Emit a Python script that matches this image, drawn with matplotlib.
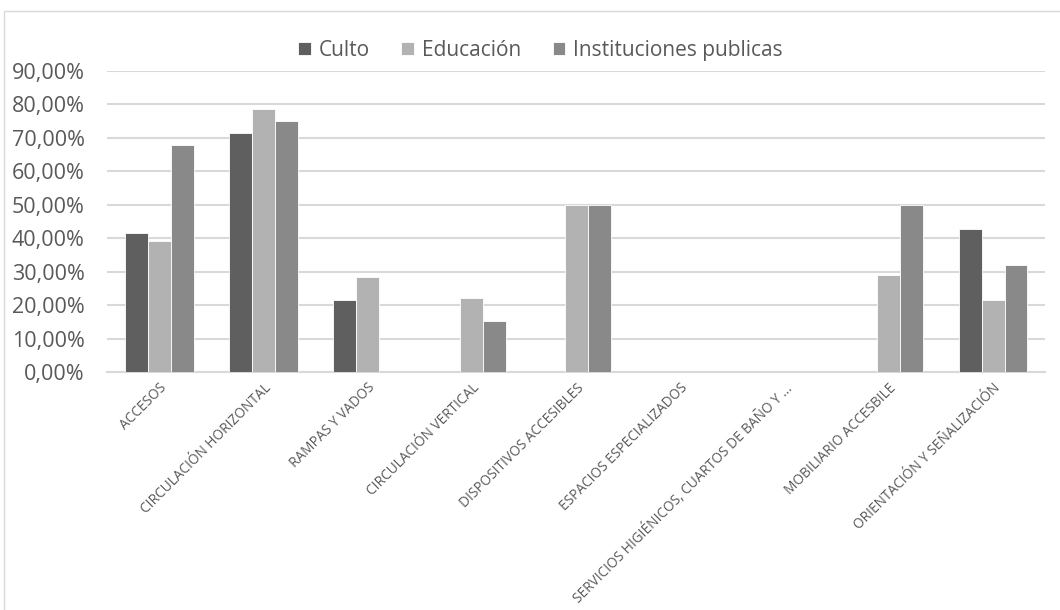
import numpy as np
import matplotlib
matplotlib.use('Agg')
import matplotlib.pyplot as plt
from matplotlib.patches import Rectangle
from matplotlib.ticker import FuncFormatter

plt.rcParams['font.family'] = ['Open Sans', 'DejaVu Sans']

categorias = ["ACCESOS", "CIRCULACIÓN HORIZONTAL", "RAMPAS Y VADOS",
              "CIRCULACIÓN VERTICAL", "DISPOSITIVOS ACCESIBLES",
              "ESPACIOS ESPECIALIZADOS",
              "SERVICIOS HIGIÉNICOS, CUARTOS DE BAÑO Y ...",
              "MOBILIARIO ACCESBILE", "ORIENTACIÓN Y SEÑALIZACIÓN"]
culto = [0.4167, 0.7143, 0.2143, 0, 0, 0, 0, 0, 0.4286]
educacion = [0.3929, 0.7857, 0.2857, 0.2222, 0.50, 0, 0, 0.2900, 0.2143]
instituciones = [0.6786, 0.75, 0, 0.1538, 0.50, 0, 0, 0.50, 0.3214]
series = ["Culto", "Educación", "Instituciones publicas"]
colores = ["#5f5f5f", "#b2b2b2", "#898989"]

fig = plt.figure(figsize=(10.6, 6.1), dpi=100)
# marco del grafico
fig.patches.append(Rectangle((0.004, -0.01), 1.0, 0.992, transform=fig.transFigure,
                             fill=False, edgecolor="#d9d9d9", linewidth=1))
ax = fig.add_axes([0.101, 0.390, 0.885, 0.4936])

x = np.arange(len(categorias))
w = 0.22
for i, (vals, nombre, c) in enumerate(zip([culto, educacion, instituciones], series, colores)):
    ax.bar(x + (i - 1) * w, vals, w, color=c, label=nombre, edgecolor="white", linewidth=0.6, zorder=3)

ax.set_ylim(0, 0.9)
ax.set_xlim(-0.5, len(categorias) - 0.5)
ax.set_yticks(np.arange(0, 0.91, 0.1))
ax.yaxis.set_major_formatter(FuncFormatter(lambda v, p: ("%.2f%%" % (v * 100)).replace(".", ",")))
ax.grid(axis="y", color="#d9d9d9", linewidth=1.5, zorder=0)
for s in ["left", "right", "top"]:
    ax.spines[s].set_visible(False)
ax.spines["bottom"].set_color("#d9d9d9")
ax.spines["bottom"].set_linewidth(1.5)
ax.tick_params(axis="both", length=0, colors="#595959")
ax.tick_params(axis="y", labelsize=15.5, pad=16)
ax.set_xticks(x)
ax.set_xticklabels(categorias, rotation=45, ha="right", rotation_mode="anchor", fontsize=9.8)
ax.tick_params(axis="x", pad=6)

fig.legend(loc="center", bbox_to_anchor=(0.51, 0.918), ncol=3, frameon=False,
           fontsize=15, handlelength=0.6, handleheight=0.6, columnspacing=1.5,
           handletextpad=0.4, labelcolor="#595959")

fig.savefig("out.png")
